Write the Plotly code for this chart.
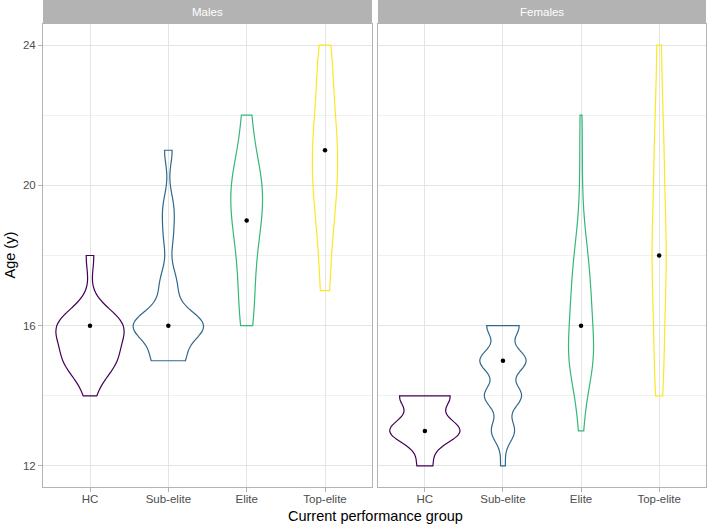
import numpy as np
import plotly.graph_objects as go

# ---------------- data (ages in years, value -> number of athletes) ----------------
groups = ["HC", "Sub-elite", "Elite", "Top-elite"]
panels = ["Males", "Females"]

males_hc_ages = [14, 15, 16, 18]
males_hc_counts = [2, 12, 16, 2]
males_sub_ages = [15, 16, 17, 17.4, 18.5, 19.2, 19.6, 21]
males_sub_counts = [8, 18, 3, 2, 2, 2, 1, 2]
males_elite_ages = [16, 17, 18, 19, 20, 20.5, 22]
males_elite_counts = [1, 1, 1, 2, 2, 1, 1]
males_top_ages = [17, 18.5, 19.5, 20, 21, 22, 23, 24]
males_top_counts = [1, 1, 1, 1, 2, 1, 1, 1]

females_hc_ages = [12, 13, 14]
females_hc_counts = [3, 14, 10]
females_sub_ages = [12, 13, 14, 15, 16]
females_sub_counts = [1, 5, 8, 10, 7]
females_elite_ages = [13, 14, 15, 16, 17, 18, 19, 20, 21, 22]
females_elite_counts = [2, 4, 12, 9, 8, 6, 2, 1, 1, 1]
females_top_ages = [14, 15, 16, 17, 18, 19, 20, 21, 22, 24]
females_top_counts = [1, 1, 1, 1, 2, 1, 1, 1, 1, 1]

y_ticks = [12, 16, 20, 24]
y_minor = [14, 18, 22]

# ---------------- styling / KDE settings ----------------
colors = ["#440154", "#31688E", "#35B779", "#FDE725"]
bandwidths = {
    "Males": [0.5, 0.42, 0.9, 1.0],
    "Females": [0.35, 0.33, 0.75, 1.2],
}

data = {
    "Males": [(males_hc_ages, males_hc_counts), (males_sub_ages, males_sub_counts),
              (males_elite_ages, males_elite_counts), (males_top_ages, males_top_counts)],
    "Females": [(females_hc_ages, females_hc_counts), (females_sub_ages, females_sub_counts),
                (females_elite_ages, females_elite_counts), (females_top_ages, females_top_counts)],
}

W, H = 709, 525
ML, MR, MT, MB = 43, 3, 24, 38
PW = W - ML - MR
PH = H - MT - MB
left_dom = [0, (372 - ML) / PW]
right_dom = [(378 - ML) / PW, 1]

FONT = "Liberation Sans, Arial, sans-serif"
GRID_MAJOR = "#E4E4E4"
GRID_MINOR = "#F0F0F0"
BORDER = "#B3B3B3"

fig = go.Figure()

for pi, panel in enumerate(panels):
    xa = "x" if pi == 0 else "x2"
    ya = "y" if pi == 0 else "y2"
    for gi, g in enumerate(groups):
        ages, counts = data[panel][gi]
        vals = np.repeat(np.array(ages, dtype=float), counts)
        fig.add_trace(go.Violin(
            x=[g] * len(vals), y=vals, name=g,
            xaxis=xa, yaxis=ya,
            line=dict(color=colors[gi], width=1.2),
            fillcolor="rgba(0,0,0,0)",
            spanmode="hard", bandwidth=bandwidths[panel][gi],
            scalegroup=panel, scalemode="width",
            points=False, box_visible=False, meanline_visible=False,
            showlegend=False, hoverinfo="skip",
        ))
        fig.add_trace(go.Scatter(
            x=[g], y=[float(np.median(vals))], mode="markers",
            xaxis=xa, yaxis=ya,
            marker=dict(color="black", size=4.5),
            showlegend=False, hoverinfo="skip",
        ))

xcommon = dict(
    type="category", categoryorder="array", categoryarray=groups,
    range=[-0.6, 3.6], showgrid=True, gridcolor=GRID_MAJOR, gridwidth=1,
    showline=True, mirror=True, linecolor=BORDER, linewidth=1,
    ticks="outside", ticklen=4, tickcolor=BORDER, tickwidth=1,
    ticklabelstandoff=-3,
    tickfont=dict(family=FONT, size=11.5, color="#4D4D4D"),
    zeroline=False, fixedrange=True,
)
ycommon = dict(
    range=[11.4, 24.6], tickmode="array", tickvals=y_ticks,
    showgrid=True, gridcolor=GRID_MAJOR, gridwidth=1,
    minor=dict(tickmode="array", tickvals=y_minor, showgrid=True,
               gridcolor=GRID_MINOR, gridwidth=1, ticks=""),
    showline=True, mirror=True, linecolor=BORDER, linewidth=1,
    zeroline=False, fixedrange=True,
)

fig.update_layout(
    width=W, height=H,
    margin=dict(l=ML, r=MR, t=MT, b=MB, pad=0),
    paper_bgcolor="white", plot_bgcolor="white",
    font=dict(family=FONT, color="#4D4D4D"),
    violinmode="overlay", violingap=0.1, violingroupgap=0,
    xaxis=dict(domain=left_dom, anchor="y", **xcommon),
    xaxis2=dict(domain=right_dom, anchor="y2", **xcommon),
    yaxis=dict(domain=[0, 1], anchor="x", ticks="outside", ticklen=4,
               tickcolor=BORDER, tickwidth=1,
               tickfont=dict(family=FONT, size=11.5, color="#4D4D4D"), **ycommon),
    yaxis2=dict(domain=[0, 1], anchor="x2", matches="y", showticklabels=False,
                ticks="", **ycommon),
)

strip_top = 1 + MT / PH
for dom, label in [(left_dom, "Males"), (right_dom, "Females")]:
    fig.add_shape(type="rect", xref="paper", yref="paper",
                  x0=dom[0], x1=dom[1], y0=1 + 0.5 / PH, y1=strip_top + 0.01,
                  fillcolor=BORDER, line=dict(width=0), layer="above")
    fig.add_annotation(xref="paper", yref="paper", x=(dom[0] + dom[1]) / 2,
                       y=1 + (MT / 2) / PH, text=label, showarrow=False,
                       xanchor="center", yanchor="middle",
                       font=dict(family=FONT, size=11.5, color="white"))

fig.add_annotation(xref="paper", yref="paper", x=(375 - ML) / PW,
                   y=-(516 - (H - MB)) / PH, text="Current performance group",
                   showarrow=False, xanchor="center", yanchor="middle",
                   font=dict(family=FONT, size=14.5, color="black"))
fig.add_annotation(xref="paper", yref="paper", x=(9 - ML) / PW,
                   y=0.5, text="Age (y)", textangle=-90, showarrow=False,
                   xanchor="center", yanchor="middle",
                   font=dict(family=FONT, size=14.5, color="black"))

fig.write_html("out.html", config={"displayModeBar": False})

# remove the browser's default page margin so the figure fills the window exactly
with open("out.html", "r", encoding="utf-8") as f:
    html = f.read()
html = html.replace("<head>", "<head><style>html,body{margin:0;padding:0;overflow:hidden;}</style>", 1)
with open("out.html", "w", encoding="utf-8") as f:
    f.write(html)
